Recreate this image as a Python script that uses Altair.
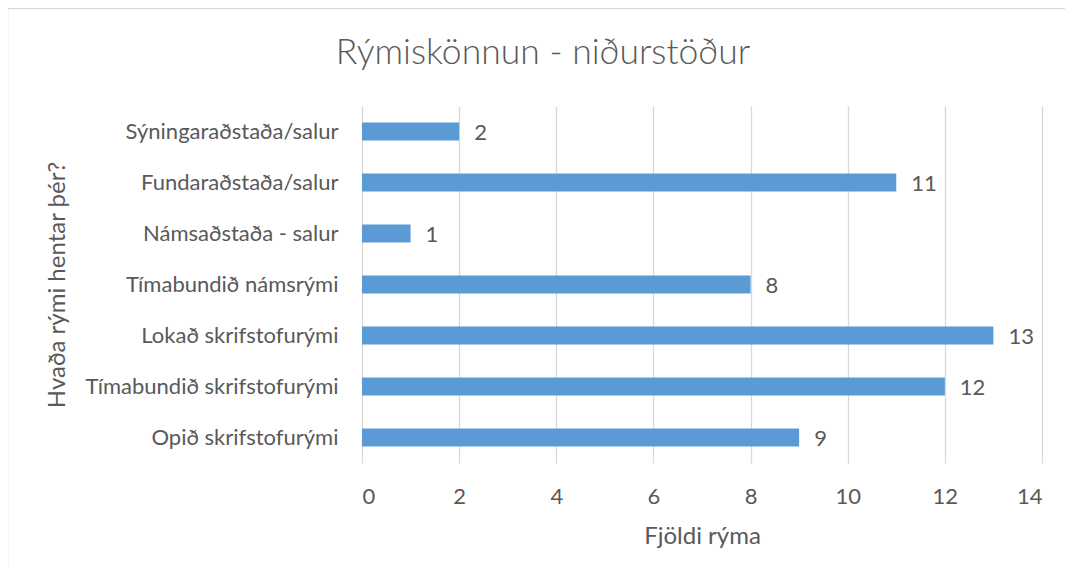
import altair as alt
import pandas as pd

categories = [
    "Sýningaraðstaða/salur",
    "Fundaraðstaða/salur",
    "Námsaðstaða - salur",
    "Tímabundið námsrými",
    "Lokað skrifstofurými",
    "Tímabundið skrifstofurými",
    "Opið skrifstofurými",
]
values = [2, 11, 1, 8, 13, 12, 9]
x_ticks = [0, 2, 4, 6, 8, 10, 12, 14]

df = pd.DataFrame({"cat": categories, "val": values})

FONT = "Lato"
GRAY = "#595959"
W, H = 680, 357

x_enc = alt.X(
    "val:Q",
    scale=alt.Scale(domain=[0, 14], nice=False),
    axis=alt.Axis(
        values=x_ticks,
        title="Fjöldi rýma",
        grid=True,
        gridColor="#D9D9D9",
        gridWidth=1.3,
        domain=False,
        ticks=False,
        labelPadding=23,
        labelFont=FONT,
        labelFontSize=22,
        labelColor=GRAY,
        titleFont=FONT,
        titleFontSize=24,
        titleFontWeight="normal",
        titleColor=GRAY,
        titleBaseline="alphabetic",
        titleY=80,
    ),
)
y_enc = alt.Y(
    "cat:N",
    sort=categories,
    axis=alt.Axis(
        title="Hvaða rými hentar þér?",
        domain=False,
        ticks=False,
        grid=False,
        labelPadding=24,
        labelFont=FONT,
        labelFontSize=22,
        labelColor=GRAY,
        labelLimit=400,
        titleFont=FONT,
        titleFontSize=24,
        titleFontWeight="normal",
        titleColor=GRAY,
        titleBaseline="alphabetic",
        titleAngle=270,
        titleAlign="center",
        titleX=-298,
        titleY=H / 2,
    ),
)

bars = alt.Chart(df).mark_bar(size=18, color="#5B9BD5").encode(x=x_enc, y=y_enc)
labels = alt.Chart(df).mark_text(
    align="left", baseline="middle", dx=15, dy=1, font=FONT, fontSize=22, color=GRAY
).encode(x="val:Q", y=alt.Y("cat:N", sort=categories), text="val:Q")

one = pd.DataFrame({"f": [0]})
frame_left = alt.Chart(one).mark_rule(color="#D9D9D9", strokeWidth=1.5).encode(
    x=alt.value(-354.5), y=alt.value(-97.5), y2=alt.value(H + 200)
)
frame_top = alt.Chart(one).mark_rule(color="#D9D9D9", strokeWidth=1.5).encode(
    x=alt.value(-354.5), x2=alt.value(W + 200), y=alt.value(-97.5)
)

chart = alt.layer(frame_left, frame_top, bars, labels).properties(
    width=W,
    height=H,
    background="white",
    autosize=alt.AutoSizeParams(type="none"),
    padding={"left": 354, "top": 98, "right": 23, "bottom": 104},
    title=alt.TitleParams(
        text="Rýmiskönnun - niðurstöður",
        font=FONT,
        fontSize=35.5,
        fontWeight=300,
        color=GRAY,
        anchor="middle",
        frame="group",
        baseline="alphabetic",
        offset=-92,
        dx=-159,
    ),
).configure_view(stroke=None)

chart.save("out.html", embed_options={"renderer": "svg", "actions": False})
